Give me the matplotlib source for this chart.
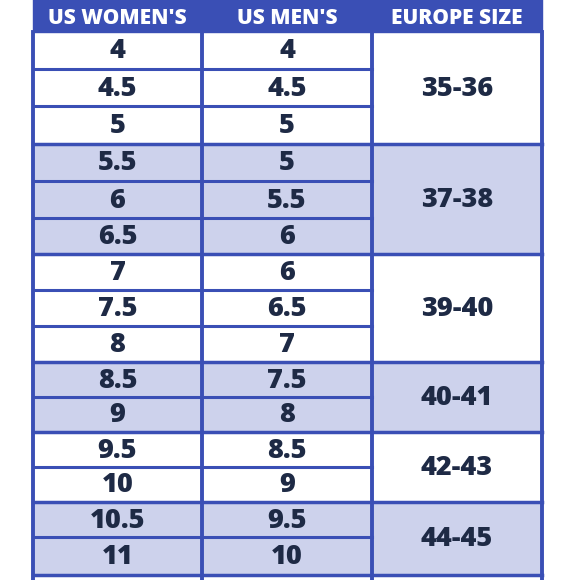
import matplotlib
matplotlib.use("Agg")
import matplotlib.pyplot as plt
from matplotlib.patches import Rectangle

headers = ["US WOMEN'S", "US MEN'S", "EUROPE SIZE"]
us_women = ["4", "4.5", "5", "5.5", "6", "6.5", "7", "7.5", "8", "8.5", "9", "9.5", "10", "10.5", "11"]
us_men = ["4", "4.5", "5", "5", "5.5", "6", "6", "6.5", "7", "7.5", "8", "8.5", "9", "9.5", "10"]
europe = ["35-36", "37-38", "39-40", "40-41", "42-43", "44-45"]
group_sizes = [3, 3, 3, 2, 2, 2]

row_edges = [32, 69, 106, 144, 181, 218, 254, 290, 326, 362, 397, 432, 467, 502, 537, 575, 612]
col_edges = [33, 202, 372, 542]
blue = "#3a4fb5"
shade = "#cdd2ec"
ink = "#1e2a45"

fig = plt.figure(figsize=(5.8, 5.8), dpi=100)
ax = fig.add_axes([0, 0, 1, 1])
ax.set_xlim(0, 580)
ax.set_ylim(580, 0)
ax.axis("off")

ax.add_patch(Rectangle((col_edges[0], -5), col_edges[-1] - col_edges[0], row_edges[0] + 5, color=blue, zorder=1))
for i, h in enumerate(headers):
    cx = (col_edges[i] + col_edges[i + 1]) / 2
    ax.text(cx, 18, h, ha="center", va="center", color="white", fontsize=15,
            fontweight="heavy", family="Open Sans", zorder=5)

r = 0
for g, (size, label) in enumerate(zip(group_sizes, europe)):
    top, bot = row_edges[r], row_edges[r + size]
    if g % 2 == 1:
        ax.add_patch(Rectangle((col_edges[0], top), col_edges[-1] - col_edges[0], bot - top, color=shade, zorder=1))
    ax.text((col_edges[2] + col_edges[3]) / 2, (top + bot) / 2 + 1, label, ha="center", va="center",
            color=ink, fontsize=19.5, fontweight="heavy", family="Open Sans", zorder=5)
    for k in range(size):
        y0, y1 = row_edges[r + k], row_edges[r + k + 1]
        cy = (y0 + y1) / 2 + 1
        ax.text((col_edges[0] + col_edges[1]) / 2, cy, us_women[r + k], ha="center", va="center",
                color=ink, fontsize=19.5, fontweight="heavy", family="Open Sans", zorder=5)
        ax.text((col_edges[1] + col_edges[2]) / 2, cy, us_men[r + k], ha="center", va="center",
                color=ink, fontsize=19.5, fontweight="heavy", family="Open Sans", zorder=5)
        if k > 0:
            ax.plot([col_edges[0], col_edges[2]], [y0, y0], color=blue, lw=2.2, zorder=3)
    ax.plot([col_edges[0], col_edges[3]], [bot, bot], color=blue, lw=2.5, zorder=3)
    r += size

for x in col_edges:
    ax.plot([x, x], [row_edges[0], 580], color=blue, lw=2.8, zorder=3)

fig.savefig("out.png", dpi=100, facecolor="white")
